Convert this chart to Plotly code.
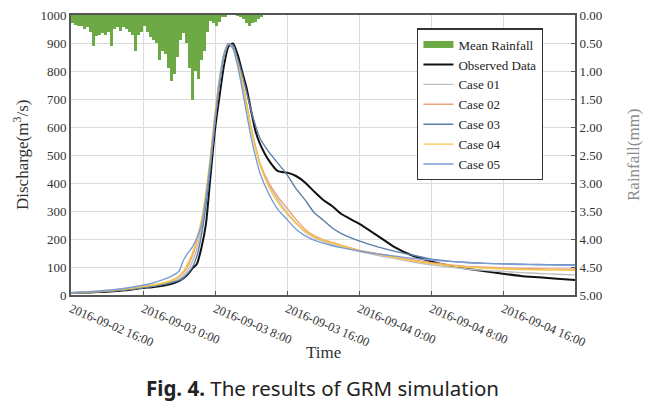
import datetime as dt
import plotly.graph_objects as go

BASE = dt.datetime(2016, 9, 2, 16, 0)

# ---- Rainfall (mm), 20-minute steps from 2016-09-02 16:00 ----
rain_step_min = 20
rain_mm = [0.15, 0.18, 0.20, 0.20, 0.25, 0.22, 0.30, 0.55, 0.38, 0.35,
           0.33, 0.35, 0.30, 0.55, 0.25, 0.22, 0.28, 0.22, 0.25, 0.30,
           0.35, 0.65, 0.35, 0.30, 0.20, 0.30, 0.40, 0.45, 0.50, 0.80,
           0.65, 0.70, 0.95, 1.18, 1.05, 0.75, 0.45, 0.33, 0.50, 0.95,
           1.52, 1.00, 1.15, 0.80, 0.65, 0.30, 0.10, 0.15, 0.20, 0.12,
           0.03, 0.02, 0.00, 0.00, 0.00, 0.01, 0.03, 0.08, 0.15, 0.20,
           0.15, 0.12, 0.08, 0.03]

# ---- Discharge (m3/s) at hours after 2016-09-02 16:00 ----
hours = [0, 2, 4, 6, 8, 9, 10, 11, 12, 12.5, 13, 13.5, 14, 14.5, 15, 15.5,
         16, 16.5, 17, 17.5, 18, 18.5, 19, 19.5, 20, 20.5, 21, 22, 23, 24,
         25, 26, 27, 28, 29, 30, 32, 34, 36, 38, 40, 42, 44, 46, 48, 50,
         52, 54, 56]

observed = [7, 9, 12, 17, 25, 28, 32, 38, 50, 60, 75, 95, 112, 170, 255, 425,
            590, 710, 820, 888, 898, 860, 800, 740, 660, 585, 540, 480, 442, 437,
            425, 402, 370, 340, 318, 290, 255, 213, 170, 140, 120, 105, 94, 85, 76, 68,
            63, 58, 54]

case01 = [8, 10, 14, 19, 27, 31, 37, 45, 58, 70, 90, 120, 165, 240, 340, 470,
          620, 750, 850, 895, 890, 835, 765, 685, 600, 530, 470, 395, 340, 295,
          258, 225, 205, 192, 181, 172, 156, 142, 130, 118, 108, 100, 93, 88, 84, 80,
          77, 74, 72]

case02 = [8, 10, 14, 20, 29, 34, 40, 48, 65, 80, 105, 140, 190, 260, 360, 490,
          640, 770, 860, 898, 885, 835, 765, 685, 600, 530, 470, 400, 350, 310,
          270, 235, 212, 198, 188, 178, 160, 148, 137, 125, 115, 108, 102, 99, 97, 95,
          94, 93, 93]

case03 = [8, 10, 14, 19, 27, 31, 36, 43, 52, 62, 78, 100, 140, 215, 320, 460,
          620, 755, 855, 898, 890, 845, 790, 725, 660, 605, 560, 510, 470, 430,
          380, 340, 295, 268, 240, 220, 193, 173, 156, 142, 128, 121, 116, 113, 111, 110,
          109, 108, 107]

case04 = [8, 11, 15, 21, 30, 35, 41, 50, 68, 85, 115, 150, 200, 270, 370, 500,
          650, 775, 862, 898, 882, 830, 760, 680, 595, 525, 465, 385, 330, 290,
          255, 228, 208, 195, 185, 176, 158, 146, 134, 122, 112, 105, 99, 96, 93, 91,
          90, 89, 88]

case05 = [8, 12, 17, 24, 35, 42, 52, 65, 85, 125, 150, 172, 205, 250, 350, 480,
          630, 765, 860, 898, 880, 820, 740, 650, 565, 495, 435, 360, 305, 270,
          235, 212, 196, 185, 176, 169, 157, 147, 139, 131, 125, 120, 116, 113, 111, 109,
          108, 107, 106]

x_tick_hours = [0, 8, 16, 24, 32, 40, 48]
x_tick_text = ["2016-09-02 16:00", "2016-09-03 0:00", "2016-09-03 8:00",
               "2016-09-03 16:00", "2016-09-04 0:00", "2016-09-04 8:00",
               "2016-09-04 16:00"]

rain_t = [BASE + dt.timedelta(minutes=rain_step_min * i + rain_step_min / 2)
          for i in range(len(rain_mm))]
q_t = [BASE + dt.timedelta(hours=h) for h in hours]

SERIF = "Liberation Serif, Times New Roman, serif"
RAIN_COLOR = "#6daa45"

fig = go.Figure()
fig.add_trace(go.Bar(x=rain_t, y=rain_mm, yaxis="y2", name="Mean Rainfall",
                     marker=dict(color=RAIN_COLOR, line=dict(width=0)),
                     width=rain_step_min * 60 * 1000, base=0, showlegend=False))
# legend entry for rainfall drawn as a thick bar-like swatch
fig.add_trace(go.Scatter(x=[None], y=[None], mode="lines", name="Mean Rainfall",
                         line=dict(color=RAIN_COLOR, width=7)))

series = [("Observed Data", observed, "#111111", 2.0),
          ("Case 01", case01, "#bfbfbf", 1.4),
          ("Case 02", case02, "#eea27a", 1.4),
          ("Case 03", case03, "#5a7fa8", 1.4),
          ("Case 04", case04, "#f7c744", 1.4),
          ("Case 05", case05, "#7c9bd3", 1.4)]
for name, vals, col, w in series:
    fig.add_trace(go.Scatter(x=q_t, y=vals, name=name, mode="lines",
                             line=dict(color=col, width=w, shape="spline", smoothing=0.6)))

tickvals = [BASE + dt.timedelta(hours=h) for h in x_tick_hours]

# The page body adds an 8px offset, so the figure is 8px smaller on each axis
fig.update_layout(
    width=645, height=403,
    margin=dict(l=63, r=78, t=7, b=116, autoexpand=False),
    paper_bgcolor="white", plot_bgcolor="white",
    bargap=0,
    font=dict(family=SERIF, size=13, color="#333333"),
    showlegend=True,
    legend=dict(x=0.687, y=0.952, xanchor="left", yanchor="top",
                bgcolor="white", bordercolor="#333333", borderwidth=1.2,
                font=dict(family=SERIF, size=13, color="#222222"),
                tracegroupgap=0, itemwidth=30),
    xaxis=dict(type="date", automargin=False,
               range=[BASE, BASE + dt.timedelta(hours=56)],
               tickvals=tickvals, ticktext=x_tick_text, tickangle=23,
               showgrid=True, gridcolor="#dcdcdc", gridwidth=1,
               showline=True, linecolor="#555555", linewidth=2, mirror=True,
               ticks="inside", ticklen=4, tickcolor="#555555",
               tickfont=dict(family=SERIF, size=12.5, color="#333333")),
    yaxis=dict(range=[0, 1000], tickvals=list(range(0, 1001, 100)), automargin=False,
               ticklabeloverflow="allow",
               showgrid=True, gridcolor="#dcdcdc", gridwidth=1,
               showline=True, linecolor="#555555", linewidth=2,
               ticks="", zeroline=False,
               tickfont=dict(family=SERIF, size=13, color="#333333")),
    yaxis2=dict(range=[5, 0], tickvals=[i * 0.5 for i in range(11)], tickformat=".2f",
                automargin=False, ticklabeloverflow="allow",
                overlaying="y", side="right", showgrid=False,
                showline=True, linecolor="#555555", linewidth=2,
                ticks="inside", ticklen=4, tickcolor="#555555", zeroline=False,
                tickfont=dict(family=SERIF, size=13, color="#333333")),
    annotations=[
        dict(text="Discharge(m<sup>3</sup>/s)", x=0, y=0.5, xref="paper", yref="paper",
             xanchor="center", yanchor="middle", xshift=-50, textangle=-90, showarrow=False,
             font=dict(family=SERIF, size=17, color="#333333")),
        dict(text="Rainfall(mm)", x=1, y=0.5, xref="paper", yref="paper",
             xanchor="center", yanchor="middle", xshift=58, textangle=-90, showarrow=False,
             font=dict(family=SERIF, size=17, color="#8a8a8a")),
        dict(text="Time", x=0.5, y=0, xref="paper", yref="paper",
             xanchor="center", yanchor="middle", yshift=-57, showarrow=False,
             font=dict(family=SERIF, size=17, color="#333333")),
        dict(text="<b>Fig. 4.</b> The results of GRM simulation", x=0.5, y=0,
             xref="paper", yref="paper", xanchor="center", yanchor="middle",
             yshift=-93, xshift=-1, showarrow=False,
             font=dict(family="Noto Sans, sans-serif", size=20.5, color="#222222")),
    ],
)

fig.write_html("out.html")
